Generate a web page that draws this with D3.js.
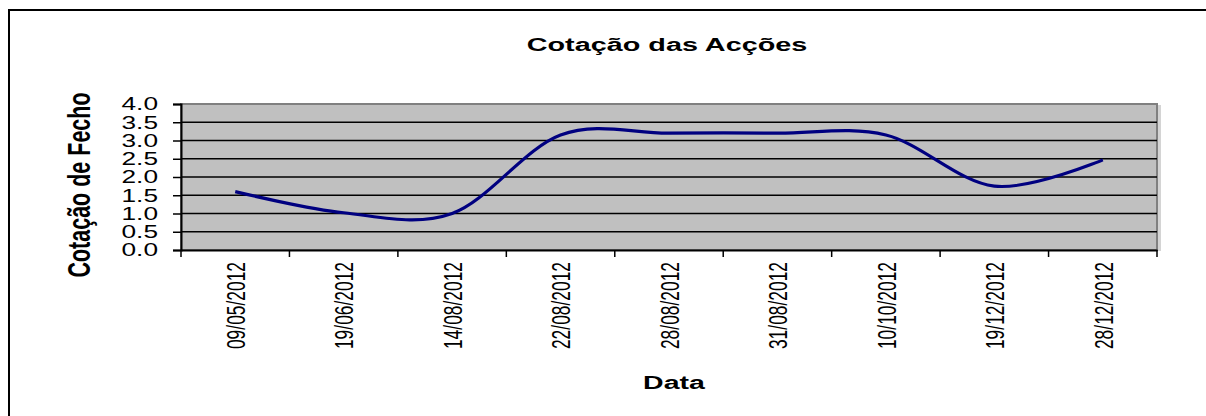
<!DOCTYPE html>
<html>
<head>
<meta charset="utf-8">
<title>Cotação das Acções</title>
<script src="https://cdn.jsdelivr.net/npm/d3@7"></script>
<style>
    body { margin: 0; background: #fff; }
    svg { display: block; font-family: "Liberation Sans", Arial, sans-serif; }
</style>
</head>
<body>
<div id="grafico"></div>
<script>
const datas = ["09/05/2012", "19/06/2012", "14/08/2012", "22/08/2012", "28/08/2012",
               "31/08/2012", "10/10/2012", "19/12/2012", "28/12/2012"];
const cotacao = [1.6, 1.02, 1.0, 3.15, 3.2, 3.2, 3.15, 1.75, 2.47];
const yTicks = [0, 0.5, 1, 1.5, 2, 2.5, 3, 3.5, 4];

document.addEventListener("DOMContentLoaded", () => {
    const width = 1206;
    const height = 416;
    const left = 181, right = 1157, top = 104, bottom = 250;
    const sx = 1.5; // o grafico original esta esticado na horizontal

    const svg = d3.select('#grafico')
        .append('svg')
        .attr('width', width)
        .attr('height', height);

    // moldura do grafico
    svg.append('rect')
        .attr('x', 9).attr('y', 10)
        .attr('width', 1300).attr('height', 500)
        .attr('fill', '#fff')
        .attr('stroke', '#000')
        .attr('stroke-width', 2);

    const xScale = d3.scaleBand()
        .domain(datas)
        .range([left, right])
        .padding(0);

    const yScale = d3.scaleLinear()
        .domain([0, 4])
        .range([bottom, top]);

    // sombra + area do grafico
    svg.append('rect')
        .attr('x', right).attr('y', top + 1)
        .attr('width', 4).attr('height', bottom - top)
        .attr('fill', '#d4d4d4');

    svg.append('rect')
        .attr('x', left).attr('y', top)
        .attr('width', right - left).attr('height', bottom - top)
        .attr('fill', '#c0c0c0')
        .attr('stroke', '#808080')
        .attr('stroke-width', 2);

    // linhas de grelha
    svg.append('g')
        .selectAll('line')
        .data(yTicks.filter(v => v > 0 && v < 4))
        .enter()
        .append('line')
        .attr('x1', left).attr('x2', right)
        .attr('y1', d => yScale(d)).attr('y2', d => yScale(d))
        .attr('stroke', '#000')
        .attr('stroke-width', 1.6);

    // Eixo Y
    const yAxis = d3.axisLeft(yScale)
        .tickValues(yTicks)
        .tickFormat(d3.format('.1f'))
        .tickSize(8);

    const gy = svg.append('g')
        .attr('transform', `translate(${left}, 0)`)
        .call(yAxis);
    gy.select('.domain').attr('stroke', '#000').attr('stroke-width', 2);
    gy.selectAll('.tick line').attr('stroke', '#000').attr('stroke-width', 1.5);
    gy.selectAll('.tick text')
        .attr('x', null).attr('dy', null)
        .attr('transform', `translate(-23, 0) scale(${sx}, 1)`)
        .attr('text-anchor', 'end')
        .attr('dominant-baseline', 'central')
        .attr('font-size', 17.5)
        .attr('font-family', null)
        .attr('fill', '#000');

    // Eixo X (so a linha, marcas nas fronteiras das categorias)
    const xAxis = d3.axisBottom(xScale).tickSize(0).tickFormat('');
    const gx = svg.append('g')
        .attr('transform', `translate(0, ${bottom})`)
        .call(xAxis);
    gx.select('.domain').attr('stroke', '#000').attr('stroke-width', 2);

    const fronteiras = datas.map(d => xScale(d)).concat(xScale.range()[1]);
    gx.selectAll('line.fronteira')
        .data(fronteiras)
        .enter()
        .append('line')
        .attr('class', 'fronteira')
        .attr('x1', d => d).attr('x2', d => d)
        .attr('y1', 0).attr('y2', 7)
        .attr('stroke', '#000')
        .attr('stroke-width', 1.5);

    // etiquetas das datas (rodadas)
    svg.append('g')
        .selectAll('text')
        .data(datas)
        .enter()
        .append('text')
        .attr('transform', d => `translate(${xScale(d) + xScale.bandwidth() / 2 + 1}, 262) scale(${sx}, 1) rotate(-90)`)
        .attr('text-anchor', 'end')
        .attr('dominant-baseline', 'central')
        .attr('font-size', 17.4)
        .text(d => d);

    // linha suavizada
    const linha = d3.line()
        .x((d, i) => xScale(datas[i]) + xScale.bandwidth() / 2)
        .y(d => yScale(d))
        .curve(d3.curveCatmullRom.alpha(0));

    svg.append('path')
        .datum(cotacao)
        .attr('d', linha)
        .attr('fill', 'none')
        .attr('stroke', '#000080')
        .attr('stroke-width', 3.2);

    // titulos
    svg.append('text')
        .attr('transform', `translate(667, 51) scale(${sx}, 1)`)
        .attr('text-anchor', 'middle')
        .attr('font-size', 19.2)
        .attr('font-weight', 'bold')
        .text('Cotação das Acções');

    svg.append('text')
        .attr('transform', `translate(674, 389) scale(${sx}, 1)`)
        .attr('text-anchor', 'middle')
        .attr('font-size', 19)
        .attr('font-weight', 'bold')
        .text('Data');

    svg.append('text')
        .attr('transform', `translate(79, 185) scale(${sx}, 1) rotate(-90)`)
        .attr('text-anchor', 'middle')
        .attr('dominant-baseline', 'central')
        .attr('font-size', 21.5)
        .attr('font-weight', 'bold')
        .text('Cotação de Fecho');
});
</script>
</body>
</html>
